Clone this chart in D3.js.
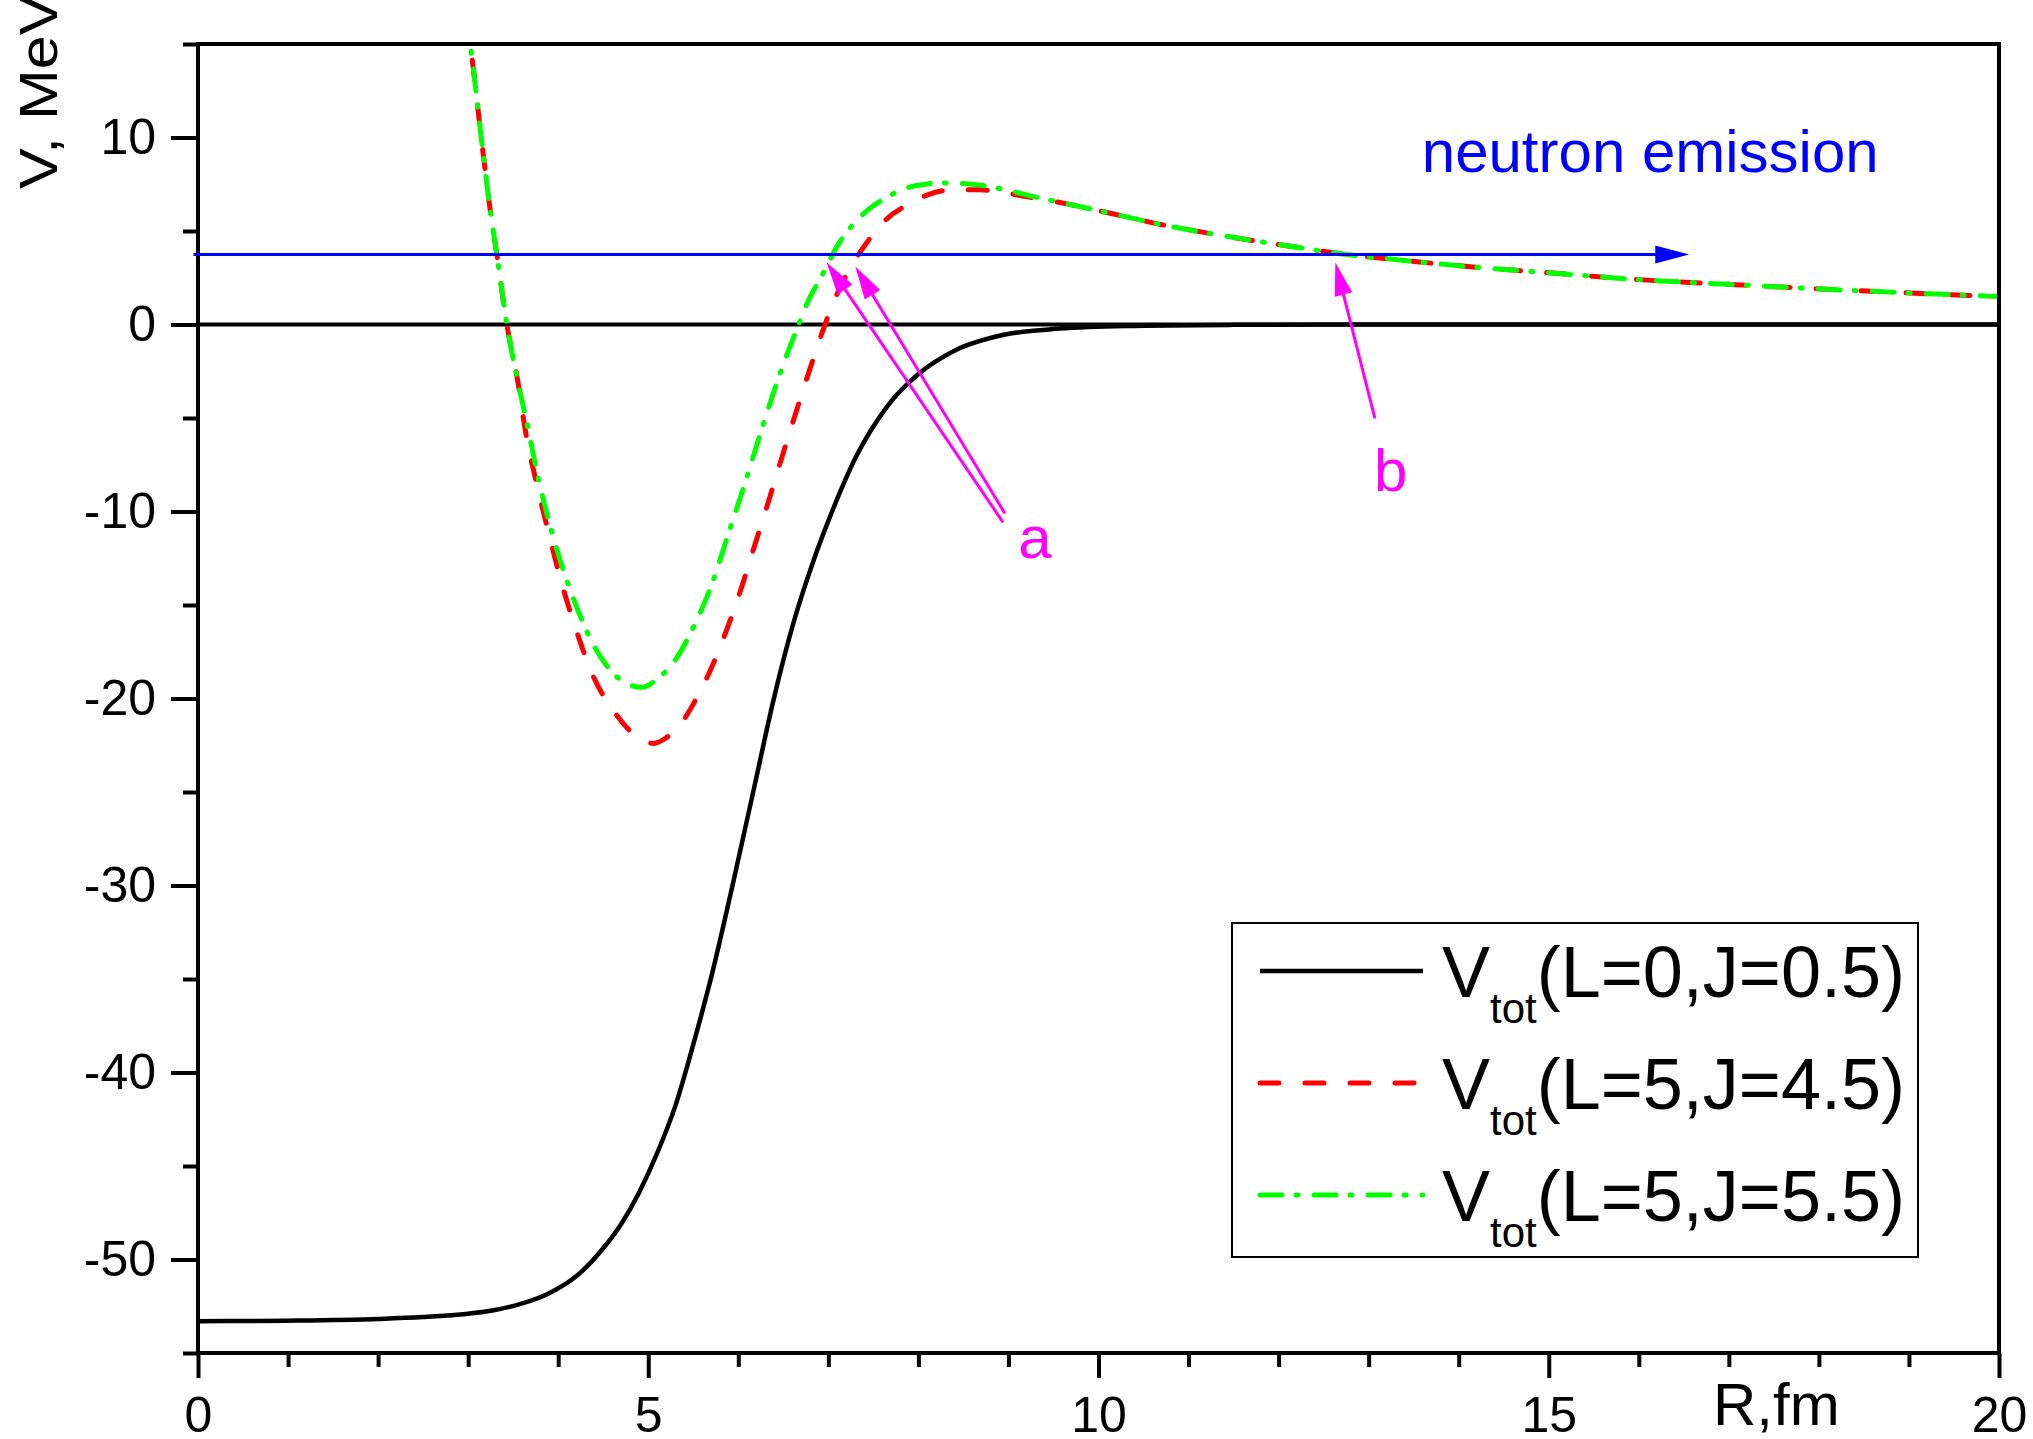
<!DOCTYPE html>
<html>
<head>
<meta charset="utf-8">
<script src="https://cdn.jsdelivr.net/npm/d3@7"></script>
<style>
    body { margin: 0; background: #fff; }
    svg { display: block; }
    text { font-family: "Liberation Sans", Arial, sans-serif; }
</style>
</head>
<body>
<div class="general_container"></div>
<script>
// ! DATA ! //
const blackR = [0, 1, 2, 2.5, 3, 3.3, 3.6, 3.9, 4.2, 4.5, 4.7, 4.9, 5.1, 5.3, 5.5, 5.72, 5.94, 6.17, 6.39, 6.61, 6.83, 7.05, 7.31, 7.65, 8.0, 8.4, 8.95, 9.57, 10.3, 11.5, 13, 20];
const blackV = [-53.3, -53.27, -53.18, -53.08, -52.9, -52.7, -52.35, -51.8, -50.9, -49.4, -48.1, -46.4, -44.3, -41.8, -38.5, -34.5, -29.9, -24.9, -20.1, -16.0, -12.7, -9.9, -7.05, -4.4, -2.65, -1.4, -0.55, -0.22, -0.08, -0.02, 0, 0];

const redR = [2.96, 3.02, 3.15, 3.24, 3.32, 3.43, 3.55, 3.64, 3.77, 3.91, 4.04, 4.19, 4.37, 4.65, 4.89, 5.06, 5.2, 5.37, 5.54, 5.67, 5.85, 6.02, 6.17, 6.32, 6.44, 6.52, 6.76, 6.93, 7.02, 7.26, 7.43, 7.61, 7.91, 8.11, 8.39, 8.68, 8.94, 9.13, 9.4, 9.65, 10.13, 10.7, 11.31, 11.9, 12.24, 12.76, 13.3, 14.1, 14.91, 16.0, 17.07, 18.15, 19.23, 20];
const redV = [16.5, 15, 9.8, 6.3, 3.7, 0, -3.0, -5.8, -8.7, -11.45, -13.86, -16.2, -18.6, -20.9, -22.1, -22.4, -22.1, -21.3, -19.95, -18.7, -16.6, -14.3, -12.0, -9.7, -7.8, -6.55, -2.9, -0.45, 0.75, 3.15, 4.4, 5.47, 6.48, 6.95, 7.2, 7.2, 7.07, 6.9, 6.68, 6.45, 5.95, 5.34, 4.81, 4.35, 4.1, 3.74, 3.47, 3.1, 2.8, 2.4, 2.13, 1.87, 1.64, 1.5];

const greenR = [2.96, 3.02, 3.15, 3.24, 3.32, 3.43, 3.55, 3.67, 3.76, 3.95, 4.15, 4.41, 4.6, 4.76, 4.93, 5.1, 5.32, 5.5, 5.69, 5.89, 6.09, 6.28, 6.45, 6.67, 6.78, 6.91, 7.0, 7.09, 7.28, 7.44, 7.65, 7.87, 8.05, 8.24, 8.46, 8.72, 8.91, 9.28, 9.65, 10.13, 10.7, 11.31, 11.9, 12.24, 12.76, 13.3, 14.1, 14.91, 16.0, 17.07, 18.15, 19.23, 20];
const greenV = [16.5, 15, 9.8, 6.3, 3.7, 0, -3.0, -5.67, -7.8, -11.45, -14.4, -17.3, -18.6, -19.2, -19.4, -18.95, -17.8, -16.2, -14.1, -11.2, -8.25, -5.3, -2.8, 0, 1.3, 2.45, 3.28, 4.13, 5.38, 6.13, 6.8, 7.3, 7.48, 7.57, 7.55, 7.43, 7.26, 6.84, 6.45, 5.95, 5.34, 4.81, 4.35, 4.1, 3.74, 3.47, 3.1, 2.8, 2.4, 2.13, 1.87, 1.64, 1.5];

const legendLabels = ["(L=0,J=0.5)", "(L=5,J=4.5)", "(L=5,J=5.5)"];
const yMajorTicks = [-50, -40, -30, -20, -10, 0, 10];
const yMinorTicks = [-55, -45, -35, -25, -15, -5, 5, 15];
const xMajorTicks = [0, 5, 10, 15, 20];
const xMinorTicks = [1, 2, 3, 4, 6, 7, 8, 9, 11, 12, 13, 14, 16, 17, 18, 19];

// emission level and annotation arrows, in (R, V) units
const emissionLevel = 3.75;
const emissionArrow = [[-0.05, emissionLevel], [16.56, emissionLevel]];
const arrowsA = [
    [[8.94, -10.58], [6.98, 3.33]],
    [[8.96, -10.1], [7.30, 3.10]],
];
const arrowB = [[13.07, -5.02], [12.63, 3.31]];
const labelA = [9.11, -12.5];
const labelB = [13.06, -8.93];
const emissionLabel = [13.59, 8.18];

// ! SIZES ! //
const width = 2033;
const height = 1439;
const plot = { left: 198, right: 1999, top: 44, bottom: 1353 };

const svg = d3.select(".general_container")
    .append("svg")
    .attr("width", width)
    .attr("height", height);

svg.append("rect").attr("width", width).attr("height", height).attr("fill", "#fff");

// ! SCALES ! //
const xScale = d3.scaleLinear().domain([0, 20]).range([plot.left, plot.right]);
const yScale = d3.scaleLinear().domain([-55, 15]).range([plot.bottom, plot.top]);

svg.append("defs").append("clipPath").attr("id", "plot_clip")
    .append("rect")
    .attr("x", plot.left).attr("y", plot.top)
    .attr("width", plot.right - plot.left).attr("height", plot.bottom - plot.top);

// ! AXES ! //
const styleAxis = (g) => {
    g.select(".domain").remove();
    g.selectAll(".tick line").attr("stroke", "#000").attr("stroke-width", 4);
    g.selectAll(".tick text").attr("fill", "#000").style("font-size", "50px")
        .style("font-family", '"Liberation Sans", Arial, sans-serif');
};

// plain hyphen for negatives, as in the original
const plainFormat = (d) => String(d);

svg.append("g")
    .attr("transform", `translate(${plot.left},0)`)
    .call(d3.axisLeft(yScale).tickValues(yMinorTicks).tickSize(15).tickFormat(""))
    .call(styleAxis);

svg.append("g")
    .attr("transform", `translate(${plot.left},0)`)
    .call(d3.axisLeft(yScale).tickValues(yMajorTicks).tickSize(27).tickPadding(15).tickFormat(plainFormat))
    .call(styleAxis);

svg.append("g")
    .attr("transform", `translate(0,${plot.bottom})`)
    .call(d3.axisBottom(xScale).tickValues(xMinorTicks).tickSize(14).tickFormat(""))
    .call(styleAxis);

svg.append("g")
    .attr("transform", `translate(0,${plot.bottom})`)
    .call(d3.axisBottom(xScale).tickValues(xMajorTicks).tickSize(25).tickPadding(18).tickFormat(plainFormat))
    .call(styleAxis);

// axis titles
svg.append("text")
    .attr("transform", "translate(57,189) rotate(-90) scale(1.13,1)")
    .style("font-size", "54px")
    .attr("fill", "#000")
    .text("V, MeV");

svg.append("text")
    .attr("x", 1713).attr("y", 1425)
    .style("font-size", "60px")
    .attr("fill", "#000")
    .text("R,fm");

// ! CURVES ! //
const line = d3.line()
    .x((d) => xScale(d[0]))
    .y((d) => yScale(d[1]))
    .curve(d3.curveMonotoneX);

const curves = svg.append("g").attr("clip-path", "url(#plot_clip)");

// zero level
curves.append("path")
    .attr("d", line([[0, 0], [20, 0]]))
    .attr("fill", "none").attr("stroke", "#000").attr("stroke-width", 4);

const series = [
    { r: blackR, v: blackV, color: "#000", dash: null, w: 4.5 },
    { r: redR, v: redV, color: "#ff0000", dash: "19,26", w: 5 },
    { r: greenR, v: greenV, color: "#00ff00", dash: "22,14,2,16", w: 5 },
];

series.forEach((s) => {
    curves.append("path")
        .attr("d", line(s.r.map((r, i) => [r, s.v[i]])))
        .attr("fill", "none")
        .attr("stroke", s.color)
        .attr("stroke-width", s.w)
        .attr("stroke-linecap", s.dash ? "round" : "butt")
        .attr("stroke-dasharray", s.dash);
});

// ! FRAME ! //
svg.append("rect")
    .attr("x", plot.left).attr("y", plot.top)
    .attr("width", plot.right - plot.left).attr("height", plot.bottom - plot.top)
    .attr("fill", "none").attr("stroke", "#000").attr("stroke-width", 4);

// ! ARROWS ! //
const drawArrow = (from, to, color, w, headLen, headHalf) => {
    const x1 = xScale(from[0]), y1 = yScale(from[1]);
    const x2 = xScale(to[0]), y2 = yScale(to[1]);
    const len = Math.hypot(x2 - x1, y2 - y1);
    const ux = (x2 - x1) / len, uy = (y2 - y1) / len;
    const bx = x2 - ux * headLen, by = y2 - uy * headLen;
    svg.append("line")
        .attr("x1", x1).attr("y1", y1).attr("x2", bx + ux * 2).attr("y2", by + uy * 2)
        .attr("stroke", color).attr("stroke-width", w);
    svg.append("polygon")
        .attr("points", [[x2, y2], [bx - uy * headHalf, by + ux * headHalf], [bx + uy * headHalf, by - ux * headHalf]].map((p) => p.join(",")).join(" "))
        .attr("fill", color);
};

drawArrow(emissionArrow[0], emissionArrow[1], "#0000ff", 3, 34, 9);
arrowsA.forEach((a) => drawArrow(a[0], a[1], "#ff00ff", 3, 33, 9));
drawArrow(arrowB[0], arrowB[1], "#ff00ff", 3, 33, 9);

svg.append("text")
    .attr("x", xScale(labelA[0])).attr("y", yScale(labelA[1]))
    .style("font-size", "60px").attr("fill", "#ff00ff").text("a");
svg.append("text")
    .attr("x", xScale(labelB[0])).attr("y", yScale(labelB[1]))
    .style("font-size", "60px").attr("fill", "#ff00ff").text("b");
svg.append("text")
    .attr("x", xScale(emissionLabel[0])).attr("y", yScale(emissionLabel[1]))
    .style("font-size", "60px").attr("fill", "#0000ff").text("neutron emission");

// ! LEGEND ! //
const legend = svg.append("g").attr("class", "legend_container");
legend.append("rect")
    .attr("x", 1232).attr("y", 923).attr("width", 686).attr("height", 334)
    .attr("fill", "#fff").attr("stroke", "#000").attr("stroke-width", 2);

series.forEach((s, i) => {
    const ly = 971 + i * 112;
    legend.append("line")
        .attr("x1", 1260).attr("x2", 1423).attr("y1", ly).attr("y2", ly)
        .attr("stroke", s.color).attr("stroke-width", s.w)
        .attr("stroke-linecap", s.dash ? "round" : "butt")
        .attr("stroke-dasharray", s.dash);
    const t = legend.append("text")
        .attr("x", 1442).attr("y", ly + 26)
        .style("font-size", "72px").attr("fill", "#000");
    t.append("tspan").text("V");
    t.append("tspan").attr("dy", 26).style("font-size", "42px").text("tot");
    t.append("tspan").attr("dy", -26).text(legendLabels[i]);
});
</script>
</body>
</html>
